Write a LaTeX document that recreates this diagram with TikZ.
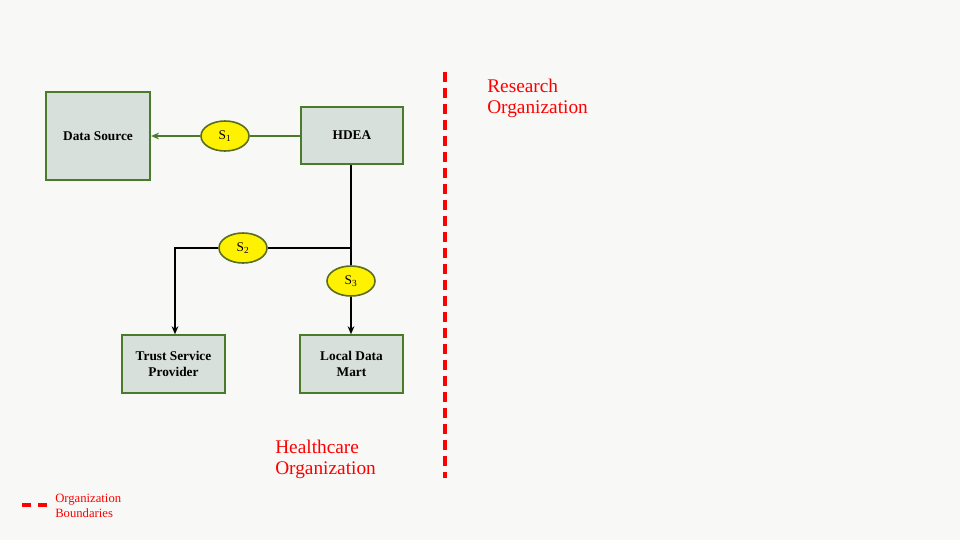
\documentclass[tikz,border=0pt]{standalone}
\usepackage{fontspec}
\setmainfont{Liberation Serif}
\usetikzlibrary{arrows.meta,shapes.geometric}
\definecolor{bggray}{RGB}{248,248,247}
\definecolor{boxfill}{RGB}{216,224,219}
\definecolor{boxline}{RGB}{74,122,44}
\definecolor{ellline}{RGB}{90,110,30}
\definecolor{orgred}{RGB}{255,0,0}
\begin{document}
\begin{tikzpicture}[x=0.75pt,y=-0.75pt,
  box/.style={draw=boxline,fill=boxfill,line width=1.6pt,minimum width=77pt,minimum height=43pt,align=center,font=\fontsize{10}{11.5}\selectfont\bfseries,inner sep=0pt},
  sig/.style={ellipse,draw=ellline,fill=yellow,line width=1.2pt,minimum width=36pt,minimum height=22.5pt,inner sep=0pt,font=\fontsize{10}{11}\selectfont},
  gline/.style={draw=boxline,line width=1.5pt},
  kline/.style={draw=black,line width=1.5pt},
  orgtxt/.style={text=orgred,align=left,anchor=north west,inner sep=0pt,font=\fontsize{14.5}{15.8}\selectfont},
  bound/.style={draw=orgred,line width=2.4pt,dash pattern=on 7.5pt off 4.5pt}
]
\fill[bggray] (0,0) rectangle (960,540);
\useasboundingbox (0,0) rectangle (960,540);

\node[box,minimum width=78pt,minimum height=66pt] (ds) at (98,136) {Data Source};
\node[box] (hdea) at (352,135.5) {HDEA};
\node[box] (tsp) at (173.5,364) {Trust Service\\Provider};
\node[box] (ldm) at (351.5,364) {Local Data\\Mart};

\node[sig] (s1) at (225,136) {S\textsubscript{1}};
\node[sig] (s2) at (243,248) {S\textsubscript{2}};
\node[sig] (s3) at (351,281) {S\textsubscript{3}};

\draw[gline] (s1.east -| hdea.west) -- (s1.east);
\draw[gline,-{Stealth[length=6pt,width=5pt]}] (s1.west) -- (s1.west -| ds.east);

\coordinate (j) at (351,248);
\coordinate (tc) at (175,248);
\draw[draw=black,line width=2.2pt] (hdea.south -| j) -- ([yshift=-1pt]j);
\draw[kline] (j) -- (s2.east);
\draw[kline,-{Stealth[length=6pt,width=5pt]}] (s2.west) -- (tc) -- (tc |- tsp.north);
\draw[kline] (j) -- (s3.north);
\draw[kline,-{Stealth[length=6pt,width=5pt]}] (s3.south) -- (s3.south |- ldm.north);

\coordinate (bt) at (445,72);
\coordinate (bb) at (445,478);
\draw[bound] (bt) -- (bb);

\node[orgtxt] (ro) at (487,79) {Research\\Organization};
\node[orgtxt] (ho) at (275,440) {Healthcare\\Organization};

\coordinate (la) at (22,505);
\coordinate (lb) at (47,505);
\draw[draw=orgred,line width=2.4pt,dash pattern=on 7pt off 5pt] (la) -- (lb);
\node[orgtxt,font=\fontsize{9.5}{11.2}\selectfont] (lg) at (55,493.5) {Organization\\Boundaries};
\end{tikzpicture}
\end{document}
